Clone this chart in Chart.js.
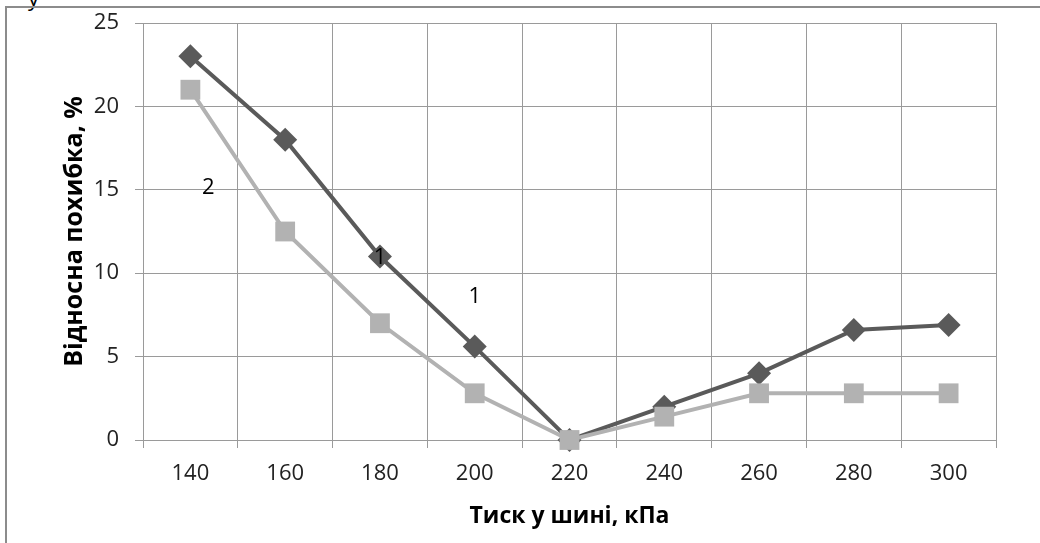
<!DOCTYPE html>
<html>
<head>
<meta charset="utf-8">
<script src="https://cdn.jsdelivr.net/npm/chart.js@4"></script>
<style>
  body { margin: 0; background: #fff; }
  #wrap { position: relative; width: 1040px; height: 543px; overflow: hidden; }
  #frame { position: absolute; left: 5px; top: 6px; width: 1100px; height: 600px;
           border-top: 2px solid #8c8c8c; border-left: 2px solid #8c8c8c; }
  #clip { position: absolute; left: 28px; top: -18px; font: 22px "Open Sans", sans-serif; color: #000; }
  canvas { position: absolute; left: 0; top: 0; }
</style>
</head>
<body>
<div id="wrap">
  <div id="clip">у</div>
  <div id="frame"></div>
  <canvas id="c" width="1040" height="543"></canvas>
</div>
<script>
const pressure = ['140', '160', '180', '200', '220', '240', '260', '280', '300'];
const error1 = [23, 18, 11, 5.6, 0, 2, 4, 6.6, 6.9];
const error2 = [21, 12.5, 7, 2.8, 0, 1.4, 2.8, 2.8, 2.8];
const yTicks = [0, 5, 10, 15, 20, 25];
// curve labels: [text, category position, value]
const curveLabels = [['2', 0.19, 15.1], ['1', 2.0, 10.9], ['1', 3.0, 8.6]];

const labelPlugin = {
  id: 'curveLabels',
  afterDatasetsDraw(chart) {
    const ctx = chart.ctx;
    const xs = chart.scales.x, ys = chart.scales.y;
    ctx.save();
    ctx.font = '22px "Open Sans", sans-serif';
    ctx.fillStyle = '#000';
    ctx.textAlign = 'center';
    ctx.textBaseline = 'middle';
    curveLabels.forEach(([t, xi, v]) => {
      const x0 = xs.getPixelForValue(Math.floor(xi));
      const x1 = xs.getPixelForValue(Math.floor(xi) + 1);
      ctx.fillText(t, x0 + (x1 - x0) * (xi - Math.floor(xi)), ys.getPixelForValue(v));
    });
    ctx.restore();
  }
};

new Chart(document.getElementById('c'), {
  type: 'line',
  data: {
    labels: pressure,
    datasets: [
      {
        label: '1',
        data: error1,
        borderColor: '#5a5a5a',
        backgroundColor: '#5a5a5a',
        borderWidth: 4,
        pointStyle: 'rectRot',
        pointRadius: 12,
        pointBorderWidth: 0,
        tension: 0,
        clip: false,
        order: 1
      },
      {
        label: '2',
        data: error2,
        borderColor: '#b2b2b2',
        backgroundColor: '#b2b2b2',
        borderWidth: 4,
        pointStyle: 'rect',
        pointRadius: 14,
        pointBorderWidth: 0,
        tension: 0,
        clip: false,
        order: 0
      }
    ]
  },
  options: {
    responsive: false,
    animation: false,
    layout: { padding: { left: 0, top: 23, right: 44, bottom: 0 } },
    plugins: { legend: { display: false }, tooltip: { enabled: false } },
    scales: {
      x: {
        offset: true,
        grid: { offset: true, color: '#9a9a9a', lineWidth: 1, tickLength: 8 },
        border: { color: '#9a9a9a' },
        ticks: { color: '#222', font: { family: 'Open Sans', size: 22 }, padding: 13 },
        title: {
          display: true,
          text: 'Тиск у шині, кПа',
          color: '#000',
          font: { family: 'Open Sans', size: 23, weight: 'bold' },
          padding: { top: 0, bottom: 13 }
        },
        afterFit: s => { s.height = 103; }
      },
      y: {
        min: 0,
        max: 25,
        afterBuildTicks: s => { s.ticks = yTicks.map(v => ({ value: v })); },
        grid: { color: '#9a9a9a', lineWidth: 1, tickLength: 8 },
        border: { color: '#9a9a9a' },
        ticks: { color: '#222', font: { family: 'Open Sans', size: 22 }, padding: 16 },
        title: {
          display: true,
          text: 'Відносна похибка, %',
          color: '#000',
          font: { family: 'Open Sans', size: 25, weight: 'bold' },
          padding: { top: 60, bottom: 0 }
        },
        afterFit: s => { s.width = 143; s.paddingTop = 0; s.paddingBottom = 0; }
      }
    }
  },
  plugins: [labelPlugin]
});
</script>
</body>
</html>
